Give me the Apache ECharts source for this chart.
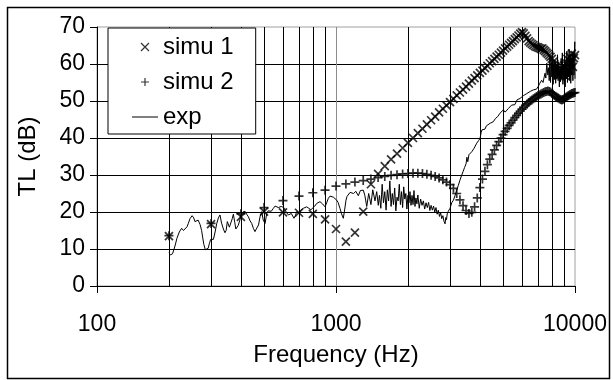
<!DOCTYPE html>
<html>
<head>
<meta charset="utf-8">
<script src="https://cdn.jsdelivr.net/npm/echarts@6/dist/echarts.min.js"></script>
<style>
  html, body { margin: 0; padding: 0; background: #fff; }
  #chart { width: 613px; height: 380px; }
</style>
</head>
<body>
<div id="chart"></div>
<script>
// frequencies of the two simulations (Hz)
const simuFreq = [
  200, 300, 400, 500, 600, 700, 800, 900, 1000, 1100, 1200, 1300, 1400, 1500, 1600, 1700, 1800, 1900, 2000,
  2100, 2200, 2300, 2400, 2500, 2600, 2700, 2800, 2900, 3000, 3100, 3200, 3300, 3400, 3500, 3600, 3700, 3800,
  3900, 4000, 4100, 4200, 4300, 4400, 4500, 4600, 4700, 4800, 4900, 5000, 5100, 5200, 5300, 5400, 5500, 5600,
  5700, 5800, 5900, 6000, 6100, 6200, 6300, 6400, 6500, 6600, 6700, 6800, 6900, 7000, 7100, 7200, 7300, 7400,
  7500, 7600, 7700, 7800, 7900, 8000, 8100, 8200, 8300, 8400, 8500, 8600, 8700, 8800, 8900, 9000, 9100, 9200,
  9300, 9400, 9500, 9600, 9700, 9800, 9900, 10000
];
const simu1 = [
  13.5, 16.7, 18.7, 20.1, 19.9, 19.8, 19.5, 18.0, 15.4, 12.0, 14.4, 20.1, 27.5, 30.3, 32.4, 34.2, 35.8, 37.3, 38.7,
  40.0, 41.3, 42.5, 43.7, 44.8, 45.8, 46.9, 47.9, 48.8, 49.7, 50.6, 51.5, 52.3, 53.1, 53.9, 54.7, 55.5, 56.2,
  56.9, 57.6, 58.2, 58.9, 59.5, 60.2, 60.8, 61.4, 62.0, 62.5, 63.1, 63.6, 64.2, 64.7, 65.2, 65.7, 66.2, 66.7,
  67.2, 67.7, 68.2, 68.6, 68.3, 67.6, 66.9, 66.2, 65.8, 65.4, 65.1, 64.8, 64.6, 64.5, 64.3, 64.1, 64.2, 63.8,
  63.5, 63.1, 62.7, 62.3, 61.9, 61.4, 60.6, 59.9, 59.1, 58.4, 57.6, 57.0, 57.8, 58.6, 57.2, 59.6, 56.8, 60.2,
  61.4, 58.3, 61.9, 60.4, 62.8, 59.2, 61.6, 62.4
];
const simu2 = [
  13.6, 16.9, 19.5, 21.2, 23.1, 24.3, 25.2, 25.9, 27.0, 27.6, 28.1, 28.5, 28.9, 29.3, 29.6, 29.9, 30.1, 30.3, 30.4,
  30.5, 30.5, 30.4, 30.2, 29.9, 29.6, 29.2, 28.7, 28.1, 27.4, 26.4, 25.0, 23.3, 21.7, 20.4, 19.6, 19.9, 21.4,
  23.8, 26.6, 28.9, 31.0, 32.8, 34.3, 35.6, 36.8, 38.0, 39.0, 40.0, 40.9, 41.8, 42.6, 43.4, 44.1, 44.8, 45.5,
  46.1, 46.7, 47.3, 47.8, 48.3, 48.8, 49.2, 49.6, 50.0, 50.3, 50.6, 50.9, 51.2, 51.5, 51.7, 51.9, 52.1, 52.3,
  52.5, 52.6, 52.7, 52.6, 52.4, 52.1, 51.8, 51.5, 51.2, 51.0, 50.8, 50.6, 50.4, 50.3, 50.4, 50.6, 50.9, 51.1,
  51.3, 51.5, 51.7, 51.8, 52.0, 52.1, 52.2, 52.3
];

// measured curve
const expFreq = [
  200, 203, 207, 212, 216, 221, 226, 230, 234, 238, 241, 245, 250, 254, 257, 261, 265, 270, 274, 277, 280, 284,
  288, 292, 295, 299, 302, 307, 312, 317, 322, 327, 332, 338, 343, 347, 351, 354, 358, 363, 368, 372, 377, 381,
  385, 390, 396, 400, 408, 416, 423, 430, 437, 444, 451, 458, 466, 474, 481, 489, 496, 505, 513, 520, 526, 536,
  547, 556, 565, 574, 583, 590, 598, 605, 612, 622, 632, 650, 667, 676, 685, 700, 715, 730, 742, 754, 770, 785,
  799, 815, 830, 845, 857, 878, 900, 914, 929, 944, 959, 975, 990, 1007, 1020, 1039, 1055, 1073, 1088, 1101,
  1112, 1126, 1145, 1163, 1185, 1210, 1240, 1265, 1285, 1301, 1320, 1345, 1370, 1400, 1425, 1456, 1480, 1503,
  1520, 1540, 1560, 1580, 1600, 1620, 1640, 1660, 1680, 1700, 1720, 1740, 1760, 1780, 1800, 1820, 1840, 1860,
  1880, 1900, 1920, 1940, 1960, 1980, 2000, 2020, 2040, 2060, 2080, 2100, 2120, 2140, 2160, 2180, 2200, 2230,
  2260, 2290, 2320, 2350, 2380, 2410, 2440, 2470, 2500, 2530, 2560, 2590, 2620, 2650, 2680, 2710, 2740, 2770,
  2800, 2830, 2860, 2880, 2900, 2920, 2950, 2980, 3000, 3050, 3100, 3150, 3200, 3250, 3300, 3350, 3400, 3450,
  3500, 3530, 3560, 3600, 3650, 3700, 3780, 3880, 3950, 4005, 4050, 4080, 4134, 4200, 4260, 4338, 4420, 4480,
  4552, 4650, 4750, 4856, 4930, 5012, 5100, 5199, 5270, 5346, 5430, 5519, 5600, 5721, 5800, 5888, 6000, 6100,
  6200, 6282, 6400, 6500, 6600, 6690, 6800, 6900, 7000, 7128, 7250, 7350, 7490, 7550, 7620, 7700, 7760, 7800,
  7850, 7900, 7950, 8000, 8050, 8100, 8150, 8200, 8250, 8300, 8350, 8400, 8450, 8500, 8550, 8600, 8650, 8700,
  8750, 8800, 8850, 8900, 8950, 9000, 9050, 9100, 9150, 9200, 9250, 9300, 9350, 9400, 9450, 9500, 9550, 9600,
  9650, 9700, 9750, 9800, 9850, 9900, 9950, 9980, 10000
];
const expTL = [
  9.0, 8.4, 8.7, 10.8, 12.9, 14.6, 15.6, 15.0, 14.7, 16.0, 16.9, 18.2, 19.0, 18.4, 17.4, 17.6, 17.8, 16.6, 15.0,
  13.0, 11.2, 9.8, 9.5, 10.2, 11.4, 12.6, 12.9, 12.6, 14.6, 16.9, 18.4, 19.2, 17.0, 15.4, 14.4, 15.0, 17.4,
  17.0, 15.9, 16.4, 18.2, 19.4, 17.2, 15.4, 15.2, 16.4, 17.8, 19.2, 20.0, 20.2, 19.4, 18.7, 17.6, 16.9, 15.6,
  14.7, 14.2, 16.5, 18.7, 20.1, 17.8, 16.9, 19.6, 20.3, 20.5, 20.2, 21.0, 21.6, 21.9, 21.2, 21.0, 21.5, 21.9,
  21.2, 20.5, 19.8, 19.2, 19.6, 18.3, 19.0, 20.1, 19.7, 20.6, 21.0, 20.8, 21.4, 21.0, 20.6, 20.5, 21.6, 22.3,
  21.8, 22.8, 22.2, 21.4, 22.5, 23.7, 24.3, 24.6, 24.0, 23.6, 23.2, 22.6, 21.0, 19.5, 18.3, 20.8, 23.2, 24.2,
  24.6, 25.3, 25.5, 25.0, 25.6, 24.4, 25.8, 26.3, 25.9, 24.5, 21.5, 25.0, 22.0, 26.0, 23.0, 25.5, 21.8,
  24.5, 21.0, 27.5, 22.5, 25.5, 20.5, 26.0, 23.0, 28.4, 21.5, 25.0, 22.0, 26.5, 20.3, 24.0, 23.0, 27.5, 22.0,
  25.5, 21.2, 26.8, 23.5, 25.0, 20.8, 24.5, 22.5, 25.5, 21.8, 24.5, 22.0, 25.8, 21.5, 23.8, 22.2, 24.6, 21.0,
  23.5, 21.8, 23.0, 20.8, 22.5, 21.2, 22.6, 20.4, 21.8, 20.5, 21.6, 20.0, 21.2, 19.4, 20.5, 18.8, 19.8, 18.2,
  19.0, 17.5, 16.8, 18.5, 17.9, 19.5, 20.2, 19.8, 21.0, 22.5, 23.2, 24.5, 25.9, 27.2, 28.6, 29.8, 30.9, 32.0,
  33.0, 34.8, 33.6, 35.5, 35.0, 36.3, 37.2, 38.6, 39.3, 39.9, 41.5, 42.2, 42.6, 42.4, 43.3, 43.1, 44.0, 43.6,
  44.4, 45.3, 45.8, 46.7, 46.4, 47.6, 47.0, 47.1, 48.0, 48.0, 48.9, 48.5, 49.0, 50.3, 49.8, 50.7, 51.0, 51.5,
  51.8, 52.0, 52.2, 52.6, 52.9, 53.0, 53.4, 53.2, 53.8, 54.8, 55.6, 55.0, 57.5, 56.2, 60.2, 57.0, 59.0, 55.5,
  61.5, 55.0, 60.5, 56.5, 62.0, 54.5, 59.5, 55.8, 61.0, 54.8, 60.0, 56.0, 62.5, 55.5, 60.5, 53.8, 59.0, 55.2,
  61.5, 56.0, 63.0, 54.5, 60.0, 55.5, 62.0, 53.8, 60.5, 56.0, 63.5, 55.0, 61.0, 56.5, 64.0, 55.5, 62.0, 54.8,
  61.5, 57.0, 63.0, 55.5, 62.5, 57.0, 64.0, 66.0, 56.0
];

// log-paper gridlines between decades
const gridFreq = [200, 300, 400, 500, 600, 700, 800, 900, 2000, 3000, 4000, 5000, 6000, 7000, 8000, 9000];

const FONT = 'Arial, "Liberation Sans", sans-serif';
const crossPath = 'path://M0,0L8,8M8,0L0,8';
const plusPath = 'path://M4,0L4,8M0,4L8,4';

const chart = echarts.init(document.getElementById('chart'));

const pairs = (xs, ys) => xs.map((x, i) => [x, ys[i]]);

chart.setOption({
  animation: false,
  backgroundColor: '#fff',
  textStyle: { fontFamily: FONT, color: '#000' },
  grid: {
    left: 97, top: 27, right: 38, bottom: 94,
    show: true, borderColor: '#a0a0a0', borderWidth: 1, backgroundColor: 'transparent'
  },
  legend: {
    orient: 'vertical',
    left: 108, top: 28,
    z: 20,
    padding: [7, 22, 5, 24],
    backgroundColor: '#fff',
    borderColor: '#000',
    borderWidth: 1,
    borderRadius: 0,
    itemGap: 11,
    itemWidth: 26,
    itemHeight: 8,
    textStyle: { fontSize: 24, color: '#000', fontFamily: FONT },
    data: [
      { name: 'simu 1', icon: crossPath, itemStyle: { color: 'none', borderColor: '#000', borderWidth: 1.2 } },
      { name: 'simu 2', icon: plusPath, itemStyle: { color: 'none', borderColor: '#000', borderWidth: 1.2 } },
      { name: 'exp', icon: 'path://M0,0L26,0L26,1L0,1Z', itemStyle: { color: '#000', borderWidth: 0 } }
    ]
  },
  xAxis: {
    type: 'log',
    logBase: 10,
    min: 100,
    max: 10000,
    name: 'Frequency (Hz)',
    nameLocation: 'middle',
    nameGap: 57,
    nameTextStyle: { fontSize: 24, color: '#000', fontFamily: FONT },
    axisLine: { lineStyle: { color: '#000', width: 1 } },
    axisTick: { show: true, length: 7, lineStyle: { color: '#000' } },
    axisLabel: { fontSize: 23, color: '#000', margin: 27, fontFamily: FONT, formatter: v => String(Math.round(v)) },
    splitLine: { show: true, showMaxLine: false, lineStyle: { color: '#8c8c8c', width: 1 } },
    minorTick: { show: false },
    minorSplitLine: { show: false }
  },
  yAxis: {
    type: 'value',
    min: 0,
    max: 70,
    interval: 10,
    name: 'TL (dB)',
    nameLocation: 'middle',
    nameGap: 57,
    nameTextStyle: { fontSize: 24, color: '#000', fontFamily: FONT },
    axisLine: { show: true, lineStyle: { color: '#000', width: 1 } },
    axisTick: { show: true, length: 7, lineStyle: { color: '#000' } },
    axisLabel: { fontSize: 23, color: '#000', margin: 12, fontFamily: FONT },
    splitLine: { show: true, showMaxLine: false, lineStyle: { color: '#000', width: 1 } }
  },
  graphic: [
    {
      type: 'rect',
      left: 5, top: 5,
      shape: { width: 602, height: 371 },
      style: { fill: 'none', stroke: '#000', lineWidth: 1.5 },
      silent: true,
      z: 0
    }
  ],
  series: [
    {
      name: 'exp',
      type: 'line',
      data: pairs(expFreq, expTL),
      showSymbol: false,
      symbol: 'none',
      lineStyle: { color: '#000', width: 1 },
      itemStyle: { color: '#000' },
      z: 3,
      markLine: {
        silent: true,
        z: 1,
        symbol: ['none', 'none'],
        label: { show: false },
        lineStyle: { color: '#000', width: 1, type: 'solid' },
        emphasis: { disabled: true },
        data: gridFreq.map(f => ({ xAxis: f }))
      }
    },
    {
      name: 'simu 1',
      type: 'scatter',
      data: pairs(simuFreq, simu1),
      symbol: crossPath,
      symbolSize: 8,
      itemStyle: { color: 'none', borderColor: '#000', borderWidth: 1.7 },
      z: 4
    },
    {
      name: 'simu 2',
      type: 'scatter',
      data: pairs(simuFreq, simu2),
      symbol: plusPath,
      symbolSize: 9,
      itemStyle: { color: 'none', borderColor: '#000', borderWidth: 1.7 },
      z: 4
    }
  ]
});
</script>
</body>
</html>
